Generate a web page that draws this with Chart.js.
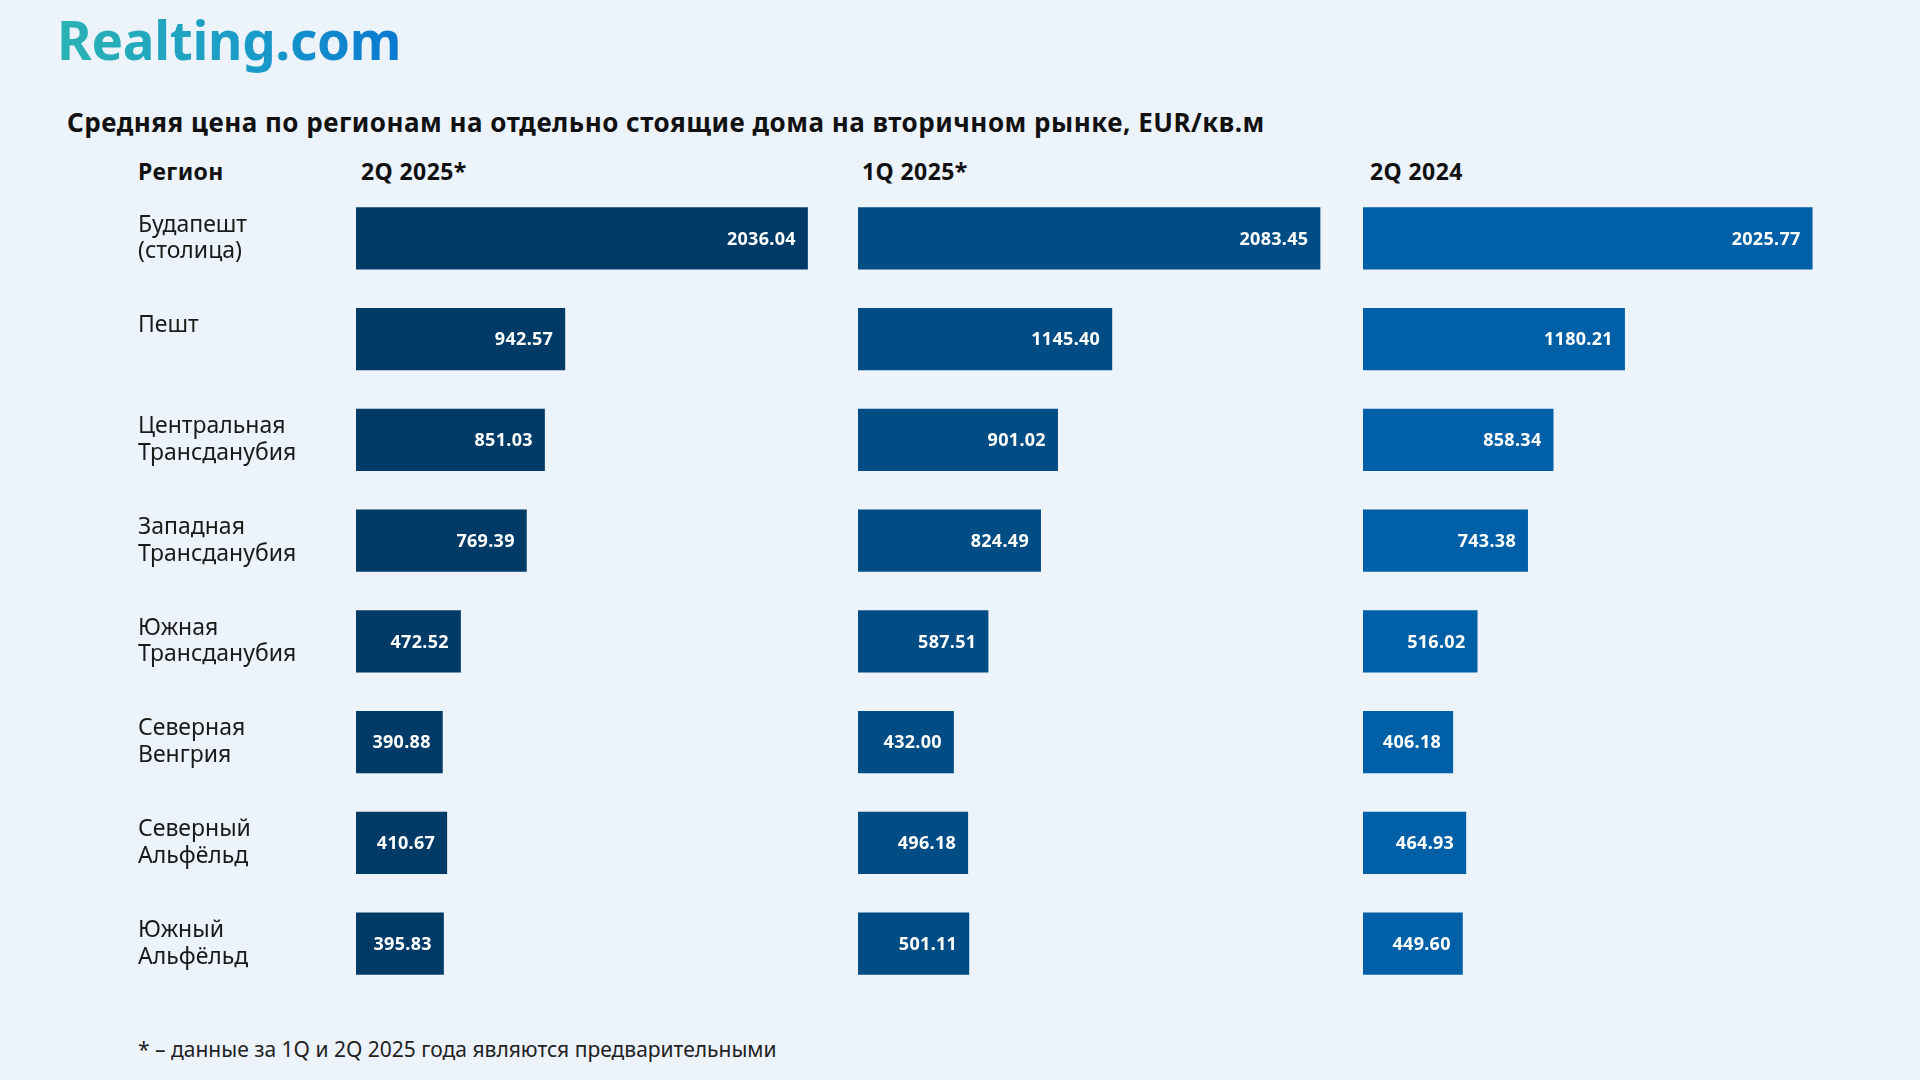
<!DOCTYPE html>
<html lang="ru">
<head>
<meta charset="utf-8">
<title>Средняя цена по регионам</title>
<script src="https://cdn.jsdelivr.net/npm/chart.js@4.4.1/dist/chart.umd.min.js"></script>
<style>
    html, body {
        margin: 0;
        padding: 0;
        background: #edf3fb;
    }
    #page {
        position: relative;
        width: 1920px;
        height: 1080px;
        overflow: hidden;
        font-family: "Noto Sans", sans-serif;
        color: #111;
    }
    .abs {
        position: absolute;
        white-space: nowrap;
        line-height: 1;
    }
    #logo {
        left: 57px;
        top: 6px;
        font-size: 53px;
        font-weight: 700;
        line-height: 1.3;
        letter-spacing: -0.3px;
        background: linear-gradient(90deg, #2ab3b3 0%, #1a9cc8 55%, #0a78d2 100%);
        -webkit-background-clip: text;
        background-clip: text;
        color: transparent;
    }
    #title {
        left: 67px;
        top: 109px;
        font-size: 26px;
        font-weight: 700;
        letter-spacing: 0.5px;
    }
    .head {
        top: 160px;
        font-size: 23px;
        font-weight: 700;
        letter-spacing: 0.4px;
    }
    #note {
        left: 138px;
        top: 1039px;
        font-size: 21px;
        color: #222;
    }
    canvas {
        position: absolute;
    }
</style>
</head>
<body>
<div id="page">
    <div id="logo" class="abs">Realting.com</div>
    <div id="title" class="abs">Средняя цена по регионам на отдельно стоящие дома на вторичном рынке, EUR/кв.м</div>
    <div class="abs head" style="left:138px">Регион</div>
    <div class="abs head" id="head0" style="left:361px"></div>
    <div class="abs head" id="head1" style="left:862px"></div>
    <div class="abs head" id="head2" style="left:1370px"></div>
    <canvas id="chart0" width="718" height="806" style="left:138px; top:188px"></canvas>
    <canvas id="chart1" width="500" height="806" style="left:858px; top:188px"></canvas>
    <canvas id="chart2" width="500" height="806" style="left:1363px; top:188px"></canvas>
    <div id="note" class="abs">* – данные за 1Q и 2Q 2025 года являются предварительными</div>
</div>

<script>
// Data
const regions = [
    ['Будапешт', '(столица)'],
    ['Пешт', ''],
    ['Центральная', 'Трансданубия'],
    ['Западная', 'Трансданубия'],
    ['Южная', 'Трансданубия'],
    ['Северная', 'Венгрия'],
    ['Северный', 'Альфёльд'],
    ['Южный', 'Альфёльд']
];
const periods = ['2Q 2025*', '1Q 2025*', '2Q 2024'];
const price2Q2025 = [2036.04, 942.57, 851.03, 769.39, 472.52, 390.88, 410.67, 395.83];
const price1Q2025 = [2083.45, 1145.40, 901.02, 824.49, 587.51, 432.00, 496.18, 501.11];
const price2Q2024 = [2025.77, 1180.21, 858.34, 743.38, 516.02, 406.18, 464.93, 449.60];

const series = [price2Q2025, price1Q2025, price2Q2024];
const colors = ['#003b67', '#004c84', '#0060a7'];
const axisMax = 2253;

// Value labels inside the bar end
const barValueLabels = {
    id: 'barValueLabels',
    afterDatasetsDraw(chart) {
        const ctx = chart.ctx;
        const meta = chart.getDatasetMeta(0);
        const data = chart.data.datasets[0].data;
        ctx.save();
        ctx.fillStyle = '#ffffff';
        ctx.font = 'bold 18px "Noto Sans", sans-serif';
        ctx.letterSpacing = '0.3px';
        ctx.textAlign = 'right';
        ctx.textBaseline = 'middle';
        meta.data.forEach((bar, i) => {
            ctx.fillText(data[i].toFixed(2), bar.x - 12, bar.y + 1);
        });
        ctx.restore();
    }
};

function buildChart(index) {
    const withLabels = index === 0;
    document.getElementById('head' + index).textContent = periods[index];

    const ctx = document.getElementById('chart' + index).getContext('2d');
    new Chart(ctx, {
        type: 'bar',
        data: {
            labels: regions,
            datasets: [{
                data: series[index],
                backgroundColor: colors[index],
                borderWidth: 0,
                categoryPercentage: 1,
                barPercentage: 0.62
            }]
        },
        options: {
            indexAxis: 'y',
            responsive: false,
            animation: false,
            devicePixelRatio: 1,
            layout: { padding: 0 },
            plugins: {
                legend: { display: false },
                tooltip: { enabled: false }
            },
            scales: {
                x: {
                    display: false,
                    min: 0,
                    max: axisMax
                },
                y: {
                    display: withLabels,
                    grid: { display: false, drawTicks: false },
                    border: { display: false },
                    ticks: {
                        crossAlign: 'far',
                        padding: 0,
                        color: '#1a1a1a',
                        font: {
                            family: '"Noto Sans", sans-serif',
                            size: 23,
                            lineHeight: 1.16
                        }
                    },
                    afterFit(scale) {
                        scale.width = withLabels ? 218 : 0;
                        scale.paddingTop = 0;
                        scale.paddingBottom = 0;
                    }
                }
            }
        },
        plugins: [barValueLabels]
    });
}

[0, 1, 2].forEach(buildChart);
</script>
</body>
</html>
